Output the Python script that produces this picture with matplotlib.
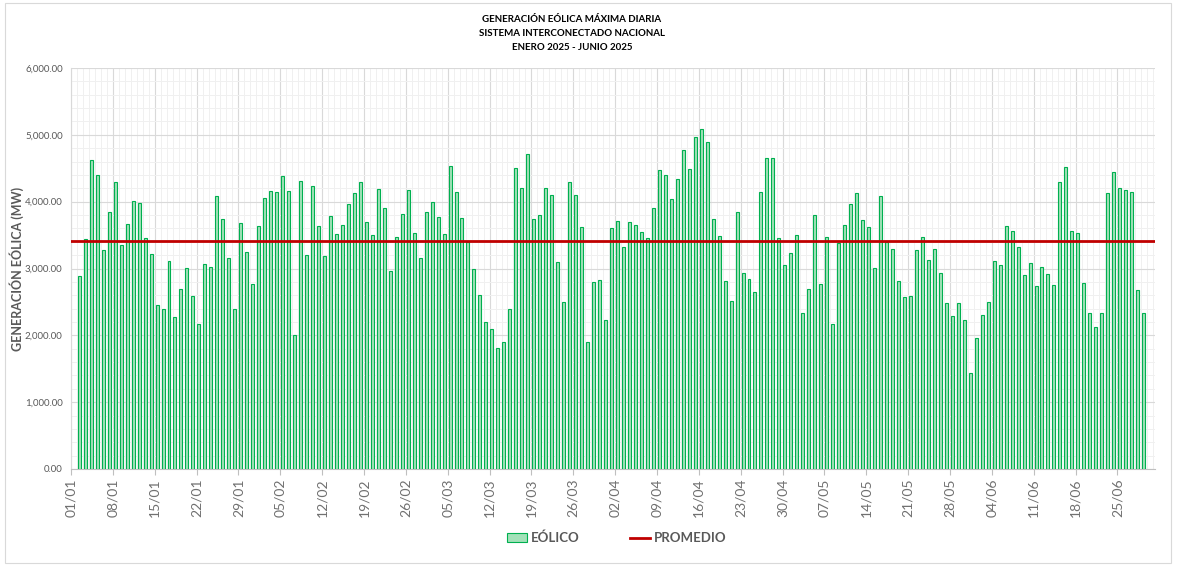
import matplotlib
matplotlib.use("Agg")
import matplotlib.pyplot as plt
from matplotlib.patches import Patch, Rectangle
from matplotlib.lines import Line2D
from matplotlib.ticker import FuncFormatter, MultipleLocator

plt.rcParams['font.family'] = ['Lato', 'DejaVu Sans']

# ---- data -------------------------------------------------------------
eolico = [
    2890, 3440, 4620, 4395, 3270, 3850, 4300, 3345, 3670, 4005, 3975, 3450, 3220, 2450, 2400, 3105, 2280, 2700, 3005, 2585, 2170, 3070,
    3025, 4080, 3740, 3160, 2390, 3675, 3240, 2765, 3635, 4050, 4155, 4145, 4390, 4155, 2000, 4315, 3195, 4240, 3635, 3190, 3790, 3510, 3645,
    3965, 4130, 4290, 3690, 3505, 4195, 3910, 2970, 3465, 3815, 4170, 3535, 3150, 3840, 4000, 3770, 3510, 4535, 4145, 3750, 3400, 3000, 2605,
    2195, 2100, 1805, 1900, 2395, 4505, 4200, 4715, 3735, 3805, 4200, 4105, 3090, 2500, 4290, 4105, 3615, 1895, 2805, 2830, 2225, 3610, 3710, 3320,
    3695, 3655, 3550, 3460, 3910, 4475, 4405, 4040, 4345, 4780, 4495, 4970, 5080, 4895, 3745, 3490, 2820, 2515, 3850, 2935, 2850, 2655, 4145,
    4660, 4660, 3460, 3050, 3230, 3505, 2340, 2690, 3805, 2765, 3475, 2170, 3375, 3645, 3965, 4130, 3720, 3615, 3010, 4080, 3390, 3290, 2820, 2580,
    2590, 3270, 3465, 3120, 3285, 2940, 2490, 2295, 2485, 2225, 1430, 1965, 2310, 2505, 3105, 3050, 3630, 3555, 3325, 2910, 3085, 2740, 3015,
    2925, 2750, 4300, 4525, 3560, 3525, 2790, 2330, 2130, 2340, 4130, 4450, 4200, 4170, 4140, 2675, 2340,
]
promedio = 3410

tick_labels = ["01/01", "08/01", "15/01", "22/01", "29/01", "05/02", "12/02", "19/02",
               "26/02", "05/03", "12/03", "19/03", "26/03", "02/04", "09/04", "16/04",
               "23/04", "30/04", "07/05", "14/05", "21/05", "28/05", "04/06", "11/06",
               "18/06", "25/06"]

title_lines = ["GENERACIÓN EÓLICA MÁXIMA DIARIA",
               "SISTEMA INTERCONECTADO NACIONAL",
               "ENERO 2025 - JUNIO 2025"]

# ---- figure -----------------------------------------------------------
W, H = 1178, 566
fig = plt.figure(figsize=(W / 100, H / 100), dpi=100)
ax = fig.add_axes([71 / W, 1 - 469 / H, (1155 - 71) / W, (469 - 68) / H])

face = '#A3E1B9'
edge = '#00B050'
gray = '#595959'

x = list(range(len(eolico)))
ax.bar(x, eolico, width=0.5, color=face, edgecolor=edge, linewidth=0.8, zorder=3)
ax.axhline(promedio, color='#C00000', linewidth=2, zorder=4)

x0 = -1.39
ax.set_xlim(x0, 179.9)
ax.set_ylim(0, 6000)

tick_pos = [x0 + 7 * k for k in range(len(tick_labels))]
ax.set_xticks(tick_pos)
ax.set_xticklabels(tick_labels, rotation=90, fontsize=10, color='#707070')
ax.set_xticks([x0 + k for k in range(0, 182)], minor=True)

ax.yaxis.set_major_locator(MultipleLocator(1000))
ax.yaxis.set_minor_locator(MultipleLocator(200))
ax.yaxis.set_major_formatter(FuncFormatter(lambda v, p: f"{v:,.2f}"))
ax.tick_params(axis='y', which='both', length=0, labelsize=7, colors=gray, pad=6)
ax.tick_params(axis='x', which='major', length=4, color='#bfbfbf', pad=3)
ax.tick_params(axis='x', which='minor', length=0)

ax.grid(which='major', axis='both', color='#d9d9d9', linewidth=0.8, zorder=0)
ax.grid(which='minor', axis='both', color='#f0f0f0', linewidth=0.7, zorder=0)
ax.set_axisbelow(True)

for s in ['top', 'right']:
    ax.spines[s].set_visible(False)
ax.spines['left'].set_color('#d9d9d9')
ax.spines['bottom'].set_color('#bfbfbf')

ax.set_ylabel("GENERACIÓN EÓLICA (MW)", fontsize=9, fontweight='bold', color=gray)
ax.yaxis.set_label_coords((24 - 71) / (1155 - 71), 0.5)

# title
for i, t in enumerate(title_lines):
    fig.text(572 / W, 1 - (19 + 14.5 * i) / H, t, ha='center', va='center',
             fontsize=7, fontweight='bold', color='black')

# legend
handles = [Patch(facecolor=face, edgecolor=edge, linewidth=0.8, label='EÓLICO'),
           Line2D([0], [0], color='#C00000', linewidth=2, label='PROMEDIO')]
leg = fig.legend(handles=handles, loc='center', bbox_to_anchor=(617 / W, 1 - 538 / H),
                 ncol=2, frameon=False, fontsize=9.5, handlelength=1.5, columnspacing=3.8,
                 handletextpad=0.3)
for t in leg.get_texts():
    t.set_color(gray)
    t.set_fontweight('bold')

# outer border
fig.patches.append(Rectangle((5 / W, 3 / H), 1166 / W, 560 / H, transform=fig.transFigure,
                             fill=False, edgecolor='#d9d9d9', linewidth=0.8))

fig.savefig("out.png", dpi=100, facecolor='white')
